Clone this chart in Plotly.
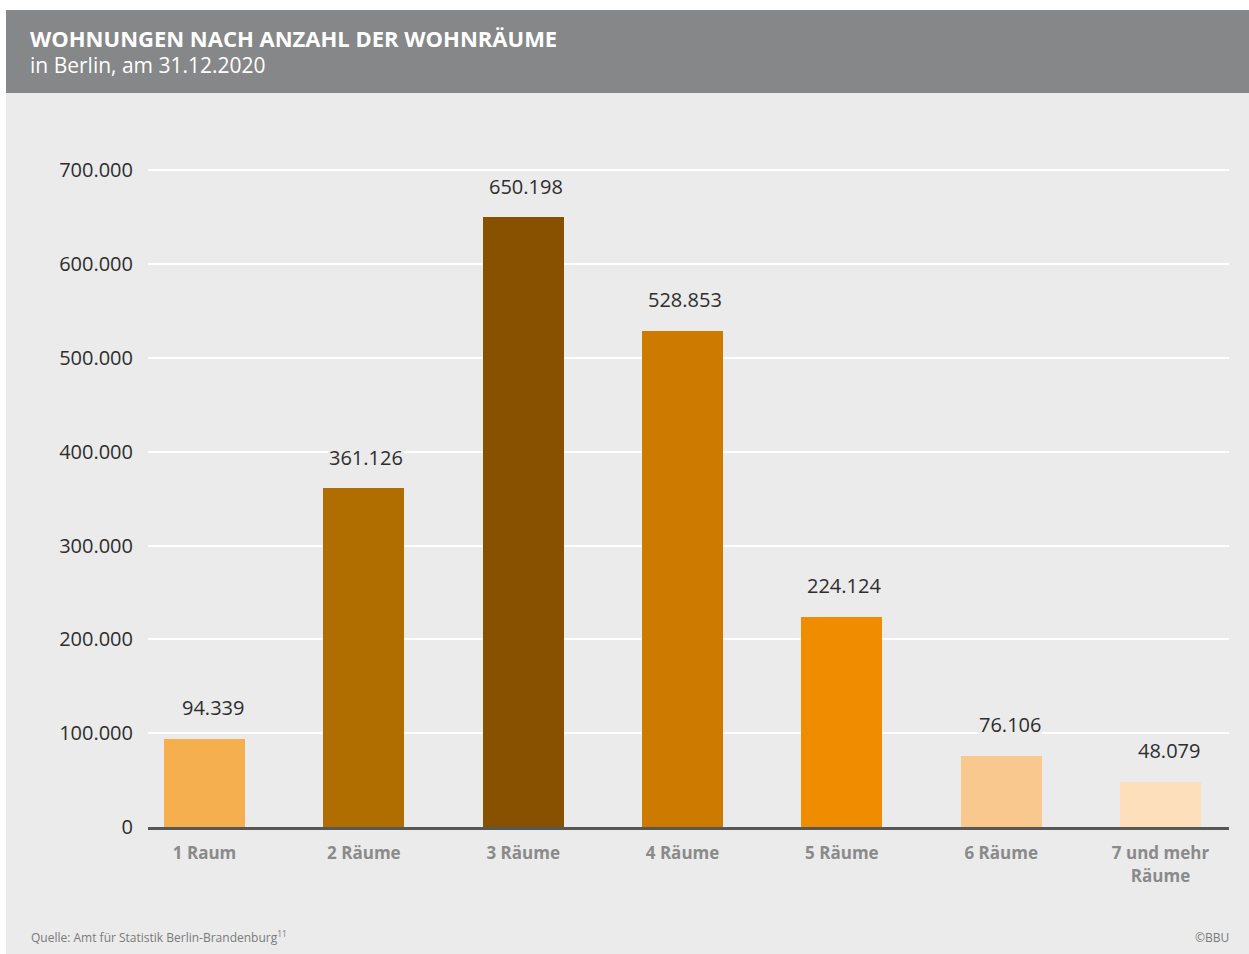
import plotly.graph_objects as go

# Wohnungen in Berlin nach Anzahl der Wohnräume (Stand 31.12.2020)
categories = ["1 Raum", "2 Räume", "3 Räume", "4 Räume", "5 Räume", "6 Räume", "7 und mehr<br>Räume"]
wohnungen = [94339, 361126, 650198, 528853, 224124, 76106, 48079]
bar_colors = ["#f5af4e", "#b06d00", "#875100", "#cc7b00", "#f08c00", "#f9c88e", "#fddfbb"]
y_ticks = [0, 100000, 200000, 300000, 400000, 500000, 600000, 700000]

W, H = 1249, 954
BG = "#ebebeb"
HEADER = "#868789"
FONT = "Open Sans"
BAR_W = 0.508

# plot area in pixels
L, R, B = 148, 20, 127
Y_MAX = 710000
plot_h = round((H - B - 170) * Y_MAX / 700000)
T = H - B - plot_h
plot_w = W - L - R


def px_x(px):
    return (px - L) / plot_w


def px_y(py):
    return 1 - (py - T) / plot_h


def fmt(v):
    return f"{v:,}".replace(",", ".")


fig = go.Figure()
fig.add_trace(go.Bar(
    x=list(range(len(categories))),
    y=wohnungen,
    marker=dict(color=bar_colors, line=dict(width=0)),
    width=BAR_W,
    hoverinfo="skip",
))

# value labels above the bars, right-aligned with the bar edge,
# on a background-coloured box that hides the grid
for i, v in enumerate(wohnungen):
    fig.add_annotation(
        x=i + BAR_W / 2, y=v, xref="x", yref="y", text=fmt(v), showarrow=False,
        xanchor="right", yshift=31, font=dict(family=FONT, size=20, color="#2e2e2e"),
        bgcolor=BG, borderpad=0,
    )

# background panel and header band
fig.add_shape(type="rect", xref="paper", yref="paper", layer="below",
              x0=px_x(6), x1=px_x(W + 5), y0=px_y(H + 5), y1=px_y(93),
              fillcolor=BG, line=dict(width=0))
fig.add_shape(type="rect", xref="paper", yref="paper", layer="below",
              x0=px_x(6), x1=px_x(W + 5), y0=px_y(93), y1=px_y(10),
              fillcolor=HEADER, line=dict(width=0))

fig.add_annotation(xref="paper", yref="paper", x=px_x(28), y=px_y(38),
                   xanchor="left", yanchor="middle", showarrow=False,
                   text="<b>WOHNUNGEN NACH ANZAHL DER WOHNRÄUME</b>",
                   font=dict(family=FONT, size=22, color="white"))
fig.add_annotation(xref="paper", yref="paper", x=px_x(28), y=px_y(65),
                   xanchor="left", yanchor="middle", showarrow=False,
                   text="in Berlin, am 31.12.2020",
                   font=dict(family=FONT, size=21, color="white"))

fig.add_annotation(xref="paper", yref="paper", x=px_x(29), y=px_y(937),
                   xanchor="left", yanchor="middle", showarrow=False,
                   text="Quelle: Amt für Statistik Berlin-Brandenburg<sup>11</sup>",
                   font=dict(family=FONT, size=12, color="#7a7a7a"))
fig.add_annotation(xref="paper", yref="paper", x=px_x(1231), y=px_y(937),
                   xanchor="right", yanchor="middle", showarrow=False,
                   text="©BBU",
                   font=dict(family=FONT, size=12, color="#7a7a7a"))

fig.update_layout(
    width=W, height=H,
    margin=dict(l=L, r=R, t=T, b=B, pad=0),
    paper_bgcolor="white",
    plot_bgcolor="rgba(0,0,0,0)",
    separators=",.",
    showlegend=False,
    bargap=0,
    xaxis=dict(
        range=[-0.355, 6.43],
        tickmode="array",
        tickvals=list(range(len(categories))),
        ticktext=[f"<b>{c}</b>" for c in categories],
        tickfont=dict(family=FONT, size=17, color="#8a8a8a"),
        ticks="outside", ticklen=9, tickcolor="rgba(0,0,0,0)",
        showgrid=False, zeroline=False,
        showline=True, linecolor="#575757", linewidth=3,
        fixedrange=True,
    ),
    yaxis=dict(
        range=[0, Y_MAX],
        tickmode="array",
        tickvals=y_ticks,
        ticktext=[fmt(v) for v in y_ticks],
        tickfont=dict(family=FONT, size=20, color="#2e2e2e"),
        ticks="outside", ticklen=10, tickcolor="rgba(0,0,0,0)",
        showgrid=True, gridcolor="white", gridwidth=2,
        zeroline=False, showline=False,
        fixedrange=True,
    ),
)

fig.write_html("out.html")
